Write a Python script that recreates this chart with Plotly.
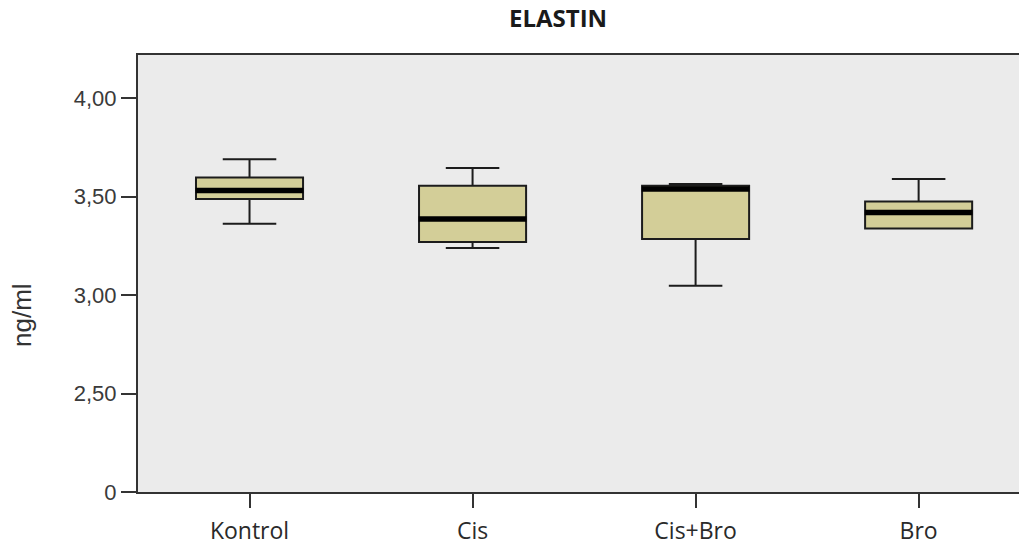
import plotly.graph_objects as go

categories = ["Kontrol", "Cis", "Cis+Bro", "Bro"]
lower_whisker = [3.363, 3.240, 3.048, 3.338]
q1_values = [3.488, 3.270, 3.285, 3.338]
median_values = [3.532, 3.387, 3.539, 3.420]
q3_values = [3.598, 3.556, 3.556, 3.476]
upper_whisker = [3.691, 3.646, 3.565, 3.590]

ytick_vals = [2.0, 2.5, 3.0, 3.5, 4.0]
ytick_text = ["0", "2,50", "3,00", "3,50", "4,00"]

fill_color = "#D3CE98"
line_color = "#1c1c1c"

fig = go.Figure()
fig.add_trace(go.Box(
    x=categories,
    q1=q1_values,
    median=median_values,
    q3=q3_values,
    lowerfence=lower_whisker,
    upperfence=upper_whisker,
    width=0.48,
    fillcolor=fill_color,
    line=dict(color=line_color, width=2),
    whiskerwidth=0.5,
    boxpoints=False,
    hoverinfo="skip",
    showlegend=False,
))
fig.add_trace(go.Scatter(
    x=categories,
    y=median_values,
    mode="markers",
    marker=dict(symbol="line-ew", size=77, line=dict(color="#000000", width=5.5)),
    hoverinfo="skip",
    showlegend=False,
))

fig.update_layout(
    width=1019,
    height=548,
    margin=dict(l=138, r=0, t=55, b=56),
    paper_bgcolor="white",
    plot_bgcolor="#EBEBEB",
    font=dict(family="Liberation Sans, Arial", color="#333333"),
    annotations=[
        dict(text="<b>ELASTIN</b>", x=0.4767, y=1.085, xref="paper", yref="paper",
             xanchor="center", yanchor="middle", showarrow=False,
             font=dict(family="Open Sans", size=24, color="#1a1a1a")),
        dict(text="ng/ml", x=-0.1317, y=0.405, xref="paper", yref="paper",
             xanchor="center", yanchor="middle", showarrow=False, textangle=-90,
             font=dict(family="Liberation Sans, Arial", size=26, color="#333333")),
    ],
)
fig.update_xaxes(
    type="category",
    range=[-0.5, 3.45],
    showline=True, linecolor="#333333", linewidth=2, mirror=True,
    ticks="outside", ticklen=14, tickwidth=1.5, tickcolor="#333333",
    ticklabelstandoff=3,
    showgrid=False, zeroline=False,
    tickfont=dict(family="Open Sans", size=23, color="#2a2a2a"),
)
fig.update_yaxes(
    range=[2.0, 4.22],
    tickvals=ytick_vals, ticktext=ytick_text,
    showline=True, linecolor="#333333", linewidth=2,
    ticks="outside", ticklen=15, tickwidth=1.5, tickcolor="#333333",
    showgrid=False, zeroline=False,
    tickfont=dict(family="Liberation Sans, Arial", size=22, color="#3a3a3a"),
)

fig.write_html("out.html", config={"displayModeBar": False},
               post_script="document.body.style.margin='0';")
